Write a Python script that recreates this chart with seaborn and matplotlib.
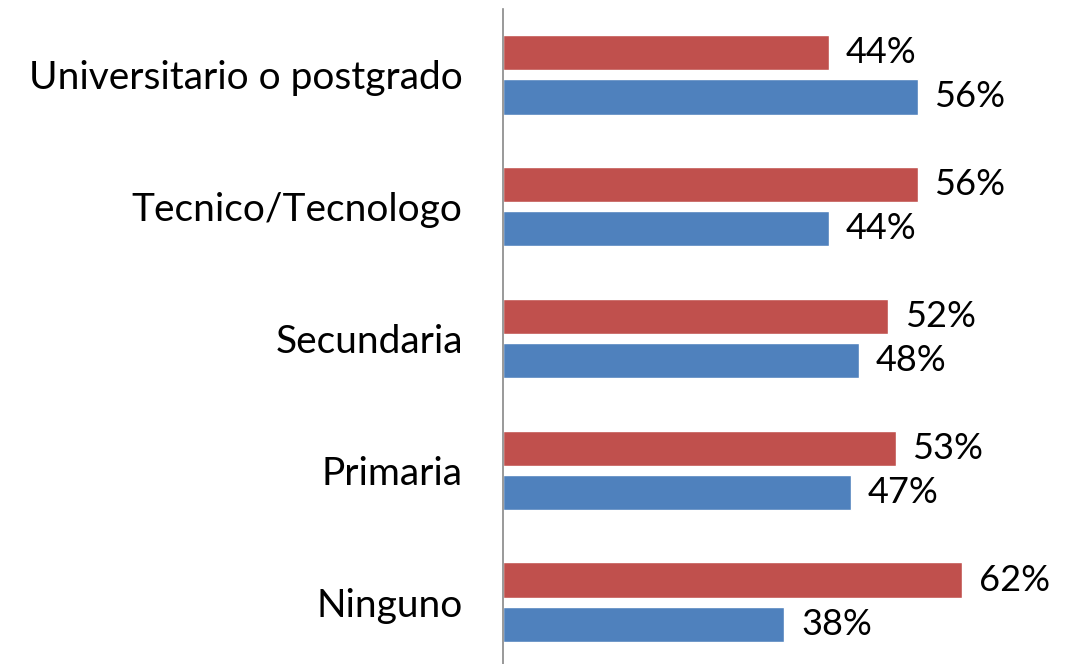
import matplotlib.pyplot as plt
import pandas as pd
import seaborn as sns

categorias = ["Universitario o postgrado", "Tecnico/Tecnologo", "Secundaria", "Primaria", "Ninguno"]
serie_roja = [44, 56, 52, 53, 62]
serie_azul = [56, 44, 48, 47, 38]
series = ["Serie 1", "Serie 2"]

df = pd.DataFrame({
    "nivel": categorias * 2,
    "valor": serie_roja + serie_azul,
    "serie": [series[0]] * 5 + [series[1]] * 5,
})

sns.set_theme(style="white")
plt.rcParams["font.family"] = ["Lato", "DejaVu Sans"]

fig = plt.figure(figsize=(10.77, 6.64), dpi=100)
ax = fig.add_axes([503 / 1077, -4 / 664, 1 - 503 / 1077, 659 / 664])

sns.barplot(data=df, x="valor", y="nivel", hue="serie", orient="h",
            order=categorias, hue_order=series,
            palette=["#C0504D", "#4F81BD"], saturation=1,
            width=0.668, gap=0.2, legend=False, ax=ax)

for cont in ax.containers:
    ax.bar_label(cont, labels=[f"{v:.0f}%" for v in cont.datavalues],
                 padding=12, fontsize=26, color="#000000")

ax.set_xlim(0, 77.5)
ax.set_ylim(4.5, -0.5)
ax.set_xticks([])
ax.set_xlabel("")
ax.set_ylabel("")
ax.tick_params(axis="y", length=0, pad=29, labelsize=28, labelcolor="#000000")
for s in ["top", "right", "bottom"]:
    ax.spines[s].set_visible(False)
ax.spines["left"].set_color("#888888")
ax.spines["left"].set_linewidth(1.2)

fig.savefig("out.png", dpi=100)
